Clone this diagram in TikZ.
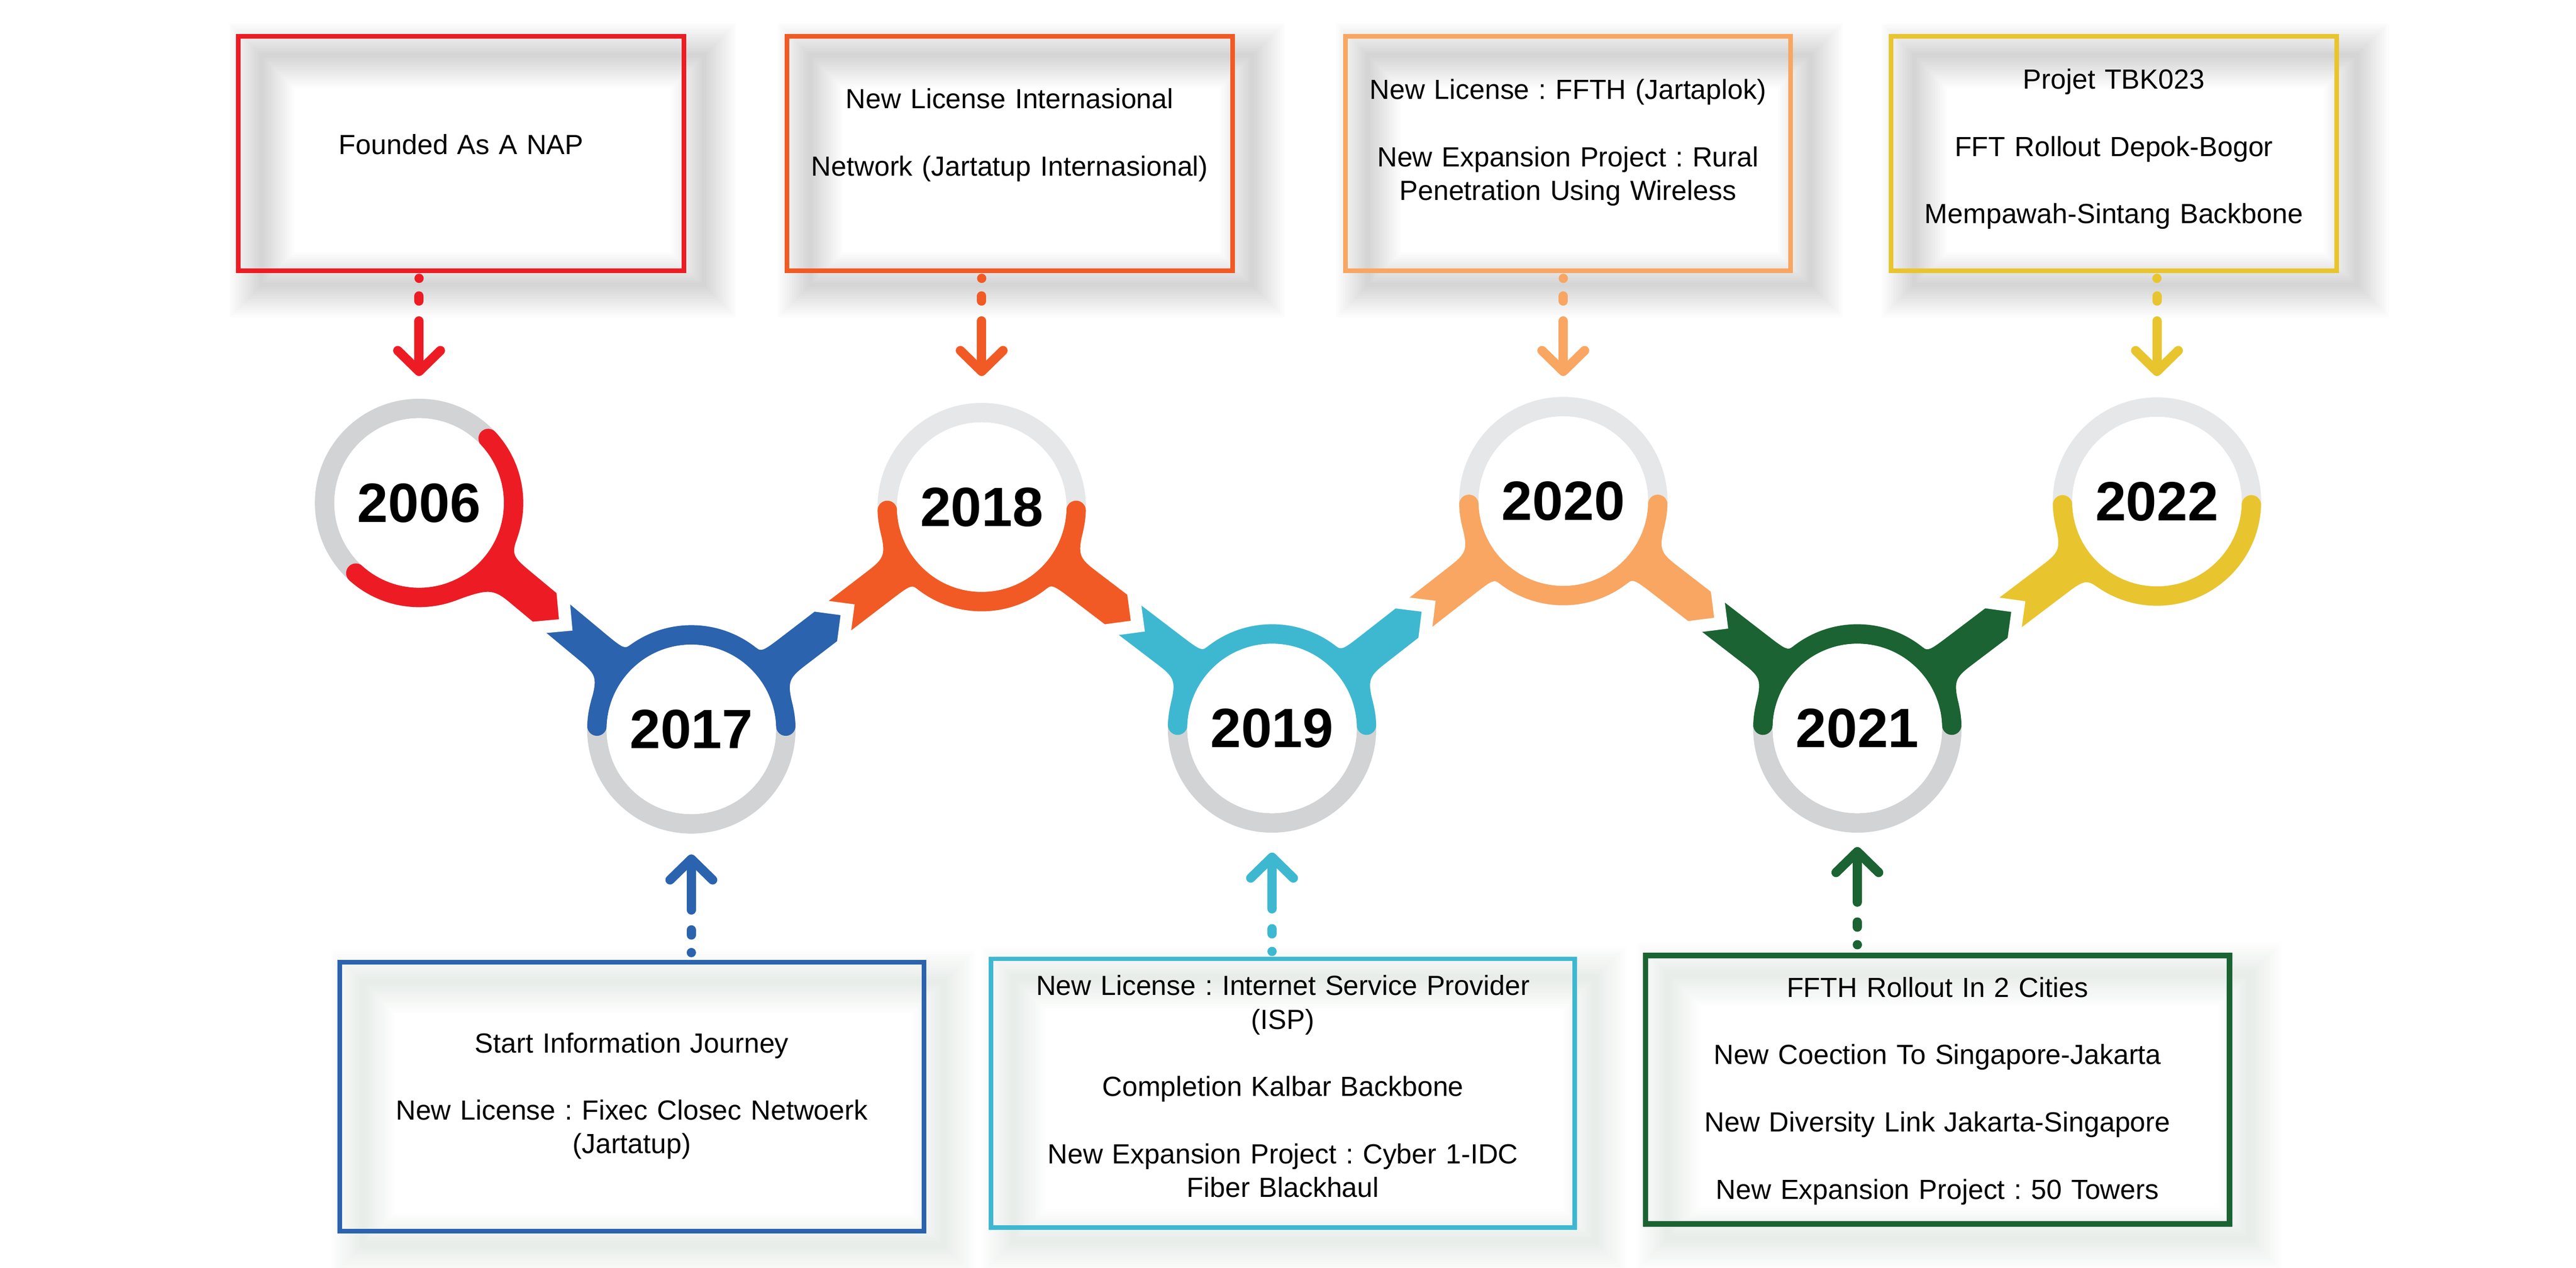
\documentclass[tikz,border=0pt]{standalone}
\usepackage{fontspec}
\setmainfont{Liberation Sans}
\frenchspacing
\usetikzlibrary{arrows.meta}
\pgfdeclarelayer{bg}
\pgfsetlayers{bg,main}

\definecolor{cRed}{HTML}{ED1C24}
\definecolor{cBlue}{HTML}{2B63AE}
\definecolor{cOrange}{HTML}{F15A24}
\definecolor{cCyan}{HTML}{3EB8D1}
\definecolor{cPeach}{HTML}{F8A662}
\definecolor{cGreen}{HTML}{1B6332}
\definecolor{cYellow}{HTML}{E8C52E}
\definecolor{ringDark}{HTML}{D1D3D4}
\definecolor{ringLight}{HTML}{E6E7E8}
\definecolor{shadeLow}{HTML}{2E5A3C}

\tikzset{
  topbox/.style={draw=#1, line width=0.1cm, minimum width=9.62cm, minimum height=5.07cm},
  lowbox/.style={draw=#1, line width=0.1cm, minimum width=12.61cm, minimum height=5.80cm},
  toptext/.style={anchor=base, text width=9.4cm, align=center, inner sep=0pt,
    font=\fontsize{17pt}{20.6pt}\selectfont},
  lowtext/.style={toptext, text width=12cm},
  ring/.style={line width=0.42cm},
  yr/.style={circle, fill=white, minimum size=3.66cm, inner sep=0pt, outer sep=0.42cm,
    font=\bfseries\fontsize{34pt}{34pt}\selectfont},
  pin/.style={line width=0.2cm, line cap=round,
    dash pattern=on 0pt off 0.38cm on 0.11cm off 0.43cm on 20cm,
    -{Straight Barb[length=0.45cm, width=0.92cm, round]}}
}

% one arm of a year piece: centre, angle, end, side (-1 tip, 1 notch), fillets, colour
\newcommand\yeararm[7]{%
  \pgfmathsetmacro\akp{(2.25*sin(#5)-0.4)/cos(#5)}%
  \pgfmathsetmacro\akm{(2.25*sin(#6)-0.4)/cos(#6)}%
  \pgfmathsetmacro\axp{2.25*cos(#5)+\akp*sin(#5)+0.5}%
  \pgfmathsetmacro\axm{2.25*cos(#6)+\akm*sin(#6)+0.5}%
  \pgfmathsetmacro\aend{#3+#4*0.4}%
  \fill[#7, shift={(#1)}, rotate=#2]
    (#5:2.25) .. controls +(#5-90:0.9*\akp) and +(180:0.45) .. (\axp,0.4)
    -- (\aend,0.4) -- (#3,0) -- (\aend,-0.4) -- (\axm,-0.4)
    .. controls +(180:0.45) and +(90-#6:0.9*\akm) .. (-#6:2.25)
    -- (0,0) -- cycle;
}

\begin{document}
\begin{tikzpicture}
\useasboundingbox (0,0) rectangle (55.63,-27.38);

\coordinate (p2006) at (9.05,-10.86);
\coordinate (p2017) at (14.93,-15.75);
\coordinate (p2018) at (21.20,-10.95);
\coordinate (p2019) at (27.47,-15.73);
\coordinate (p2020) at (33.76,-10.82);
\coordinate (p2021) at (40.11,-15.73);
\coordinate (p2022) at (46.58,-10.83);

% boxes
\node[topbox=cRed]    (b2006) at (9.96,-3.315) {};
\node[topbox=cOrange] (b2018) at (21.805,-3.315) {};
\node[topbox=cPeach]  (b2020) at (33.86,-3.315) {};
\node[topbox=cYellow] (b2022) at (45.65,-3.315) {};
\node[lowbox=cBlue]   (b2017) at (13.645,-23.68) {};
\node[lowbox=cCyan]   (b2019) at (27.705,-23.605) {};
\node[lowbox=cGreen, line width=0.12cm] (b2021) at (41.84,-23.53) {};

\begin{pgfonlayer}{bg}
  \foreach \b in {b2006,b2018,b2020,b2022}
    \foreach \w in {0.1,0.2,...,1.4}
      \draw[black, opacity=0.0105, line width=\w cm]
        ([shift={(0.55,-0.25)}]\b.south west) rectangle ([shift={(0.38,-0.47)}]\b.north east);
  \foreach \b in {b2017,b2019,b2021}
    \foreach \w in {0.1,0.2,...,1.4}
      \draw[shadeLow, opacity=0.008, line width=\w cm]
        ([shift={(0.55,-0.25)}]\b.south west) rectangle ([shift={(0.38,-0.47)}]\b.north east);
\end{pgfonlayer}

% texts
\node[toptext, yshift=-2.60cm] (t2006) at (b2006.north) {Founded As A NAP};
\node[toptext, yshift=-1.61cm] (t2018) at (b2018.north)
  {New License Internasional\\[0.73cm] Network (Jartatup Internasional)};
\node[toptext, yshift=-1.41cm] (t2020) at (b2020.north)
  {New License : FFTH (Jartaplok)\\[0.73cm] New Expansion Project : Rural\\ Penetration Using Wireless};
\node[toptext, yshift=-1.19cm] (t2022) at (b2022.north)
  {Projet TBK023\\[0.73cm] FFT Rollout Depok-Bogor\\[0.73cm] Mempawah-Sintang Backbone};
\node[lowtext, yshift=-2.00cm] (t2017) at (b2017.north)
  {Start Information Journey\\[0.73cm] New License : Fixec Closec Netwoerk\\ (Jartatup)};
\node[lowtext, yshift=-0.84cm] (t2019) at (b2019.north)
  {New License : Internet Service Provider\\ (ISP)\\[0.73cm] Completion Kalbar Backbone\\[0.73cm]
   New Expansion Project : Cyber 1-IDC\\ Fiber Blackhaul};
\node[lowtext, yshift=-0.96cm] (t2021) at (b2021.north)
  {FFTH Rollout In 2 Cities\\[0.73cm] New Coection To Singapore-Jakarta\\[0.73cm]
   New Diversity Link Jakarta-Singapore\\[0.73cm] New Expansion Project : 50 Towers};

% rings
\foreach \c/\g in {p2006/ringDark, p2017/ringDark, p2018/ringLight, p2019/ringDark,
                   p2020/ringLight, p2021/ringDark, p2022/ringLight}
  \draw[\g, ring] (\c) circle[radius=2.04];
\foreach \c/\s/\e/\col in {p2006/-132/43/cRed, p2017/2/178/cBlue, p2018/182/358/cOrange,
    p2019/2/178/cCyan, p2020/182/358/cPeach, p2021/2/178/cGreen, p2022/182/358/cYellow}
  \draw[\col, ring, line cap=round] (\c) ++(\s:2.04) arc[start angle=\s, end angle=\e, radius=2.04];

% arms
\yeararm{p2006}{-39.75}{4.12}{-1}{20}{30}{cRed}
\yeararm{p2017}{140.25}{3.53}{1}{24}{14}{cBlue}
\yeararm{p2017}{37.44}{4.25}{-1}{14}{24}{cBlue}
\yeararm{p2018}{217.44}{3.65}{1}{14}{24}{cOrange}
\yeararm{p2018}{-37.32}{4.24}{-1}{24}{14}{cOrange}
\yeararm{p2019}{142.68}{3.64}{1}{24}{14}{cCyan}
\yeararm{p2019}{37.98}{4.29}{-1}{14}{24}{cCyan}
\yeararm{p2020}{217.98}{3.69}{1}{14}{24}{cPeach}
\yeararm{p2020}{-37.71}{4.31}{-1}{24}{14}{cPeach}
\yeararm{p2021}{142.29}{3.72}{1}{24}{14}{cGreen}
\yeararm{p2021}{37.14}{4.36}{-1}{14}{24}{cGreen}
\yeararm{p2022}{217.14}{3.76}{1}{18}{24}{cYellow}

\foreach \c/\a/\x in {p2006/-39.75/4.12, p2017/37.44/4.25, p2018/-37.32/4.24,
                      p2019/37.98/4.29, p2020/-37.71/4.31, p2021/37.14/4.36}
  \draw[white, line width=0.27cm, shift={(\c)}, rotate=\a]
    ({\x-0.65},0.65) -- (\x,0) -- ({\x-0.65},-0.65);

% years
\node[yr] (c2006) at (p2006) {2006};
\node[yr] (c2017) at (p2017) {2017};
\node[yr] (c2018) at (p2018) {2018};
\node[yr] (c2019) at (p2019) {2019};
\node[yr] (c2020) at (p2020) {2020};
\node[yr] (c2021) at (p2021) {2021};
\node[yr] (c2022) at (p2022) {2022};

% pointers
\foreach \b/\c/\s/\e/\col in {b2006/c2006/0.11/0.49/cRed, b2018/c2018/0.11/0.58/cOrange,
                              b2020/c2020/0.11/0.45/cPeach, b2022/c2022/0.11/0.46/cYellow}
  \draw[pin, \col, shorten <=\s cm, shorten >=\e cm] (\b.south -| \c.north) -- (\c.north);
\foreach \b/\c/\s/\e/\col in {b2017/c2017/0.16/0.45/cBlue, b2019/c2019/0.11/0.43/cCyan,
                              b2021/c2021/0.17/0.31/cGreen}
  \draw[pin, \col, shorten <=\s cm, shorten >=\e cm] (\b.north -| \c.south) -- (\c.south);
\end{tikzpicture}
\end{document}
